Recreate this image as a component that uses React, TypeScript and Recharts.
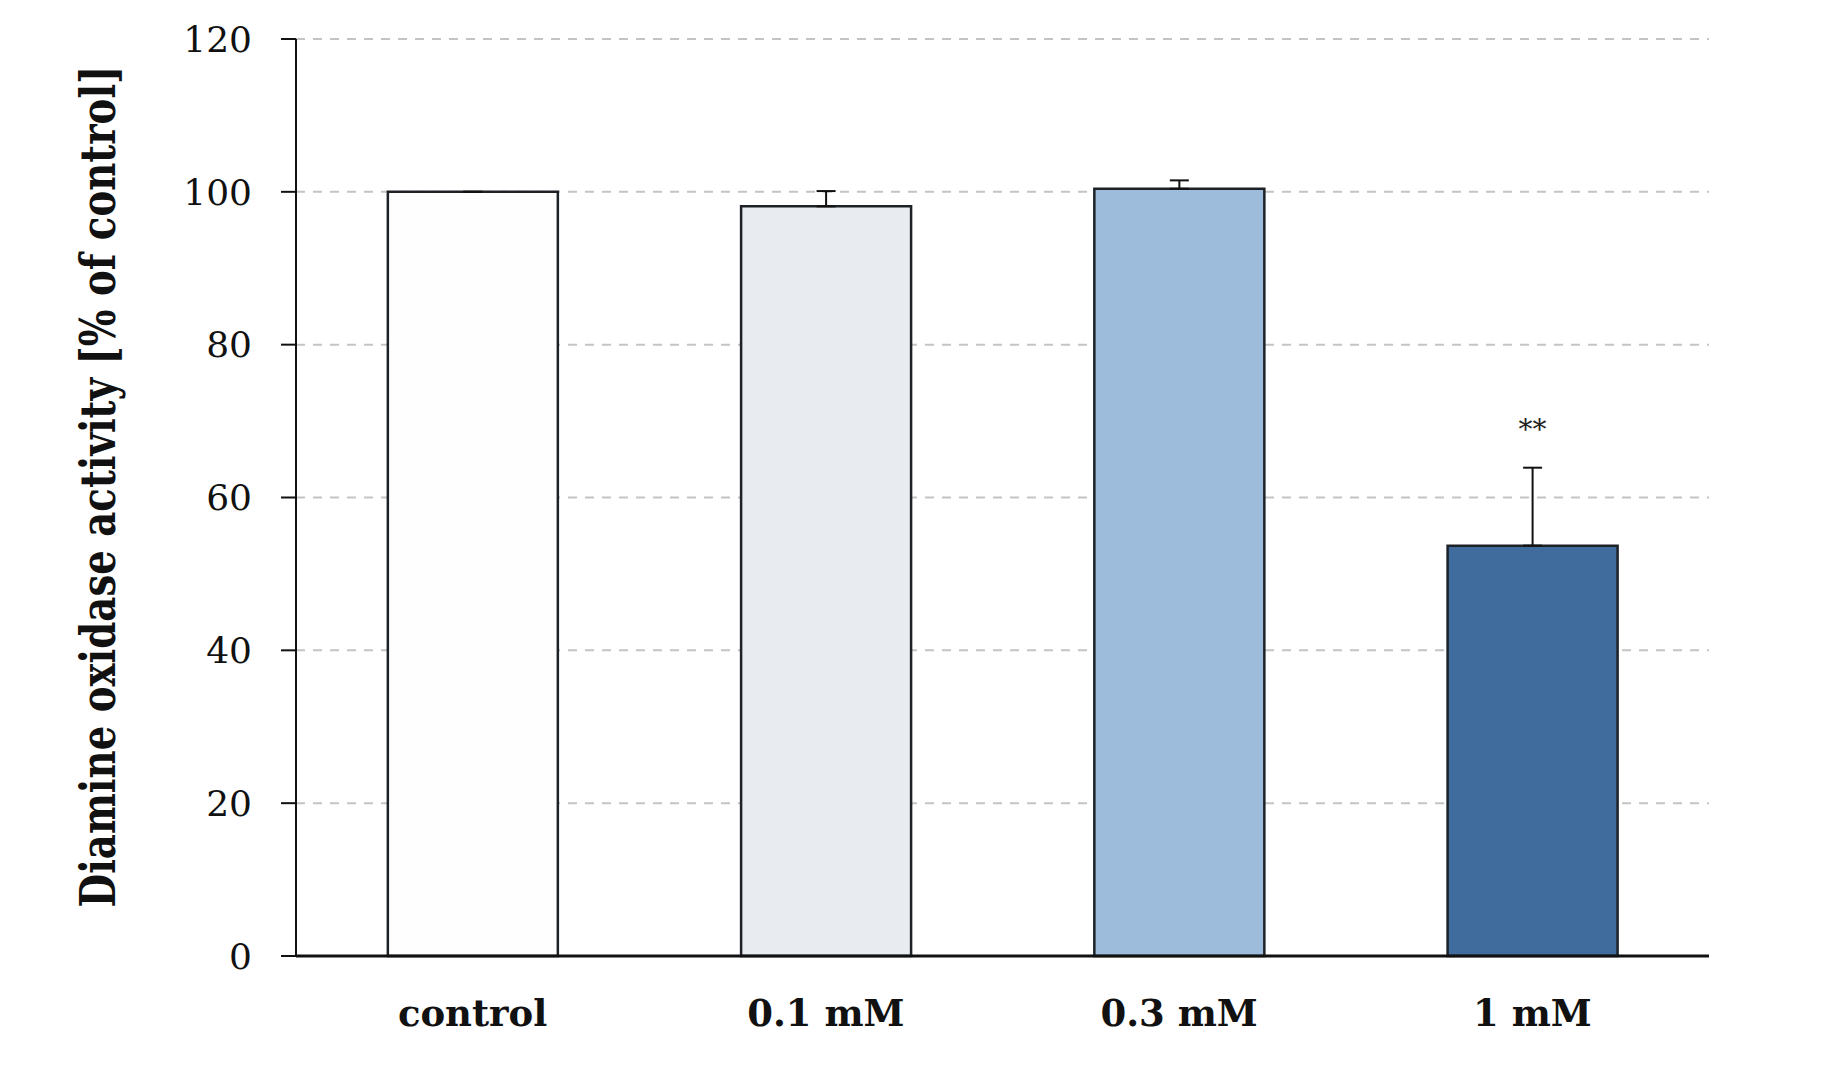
import React, { useLayoutEffect, useRef, useState } from 'react';
import { BarChart, Bar, XAxis, YAxis, CartesianGrid, Cell, ErrorBar, LabelList } from 'recharts';

const categories = ['control', '0.1 mM', '0.3 mM', '1 mM'];
const activity = [100, 98.1, 100.4, 53.7];
const errorUp = [0, 2.0, 1.1, 10.2];
const significance = ['', '', '', '**'];
const barColors = ['#fefefe', '#e8ecf1', '#9dbcdb', '#3f6c9c'];
const yTicks = [0, 20, 40, 60, 80, 100, 120];

const data = categories.map((name, i) => ({
    name,
    activity: activity[i],
    err: [0, errorUp[i]],
    sig: significance[i],
}));

const SERIF = '"DejaVu Serif", serif';
const Y_LABEL = 'Diamine oxidase activity [% of control]';
const Y_LABEL_LEN = 842;

// the label in the reference is squeezed along its length, so scale it to fit
const YLabel = (props: any) => {
    const vb = props.viewBox || { x: 0, y: 0, width: 0, height: 0 };
    const ref = useRef<SVGTextElement>(null);
    const [sx, setSx] = useState(0.72);
    useLayoutEffect(() => {
        if (ref.current) {
            const len = ref.current.getComputedTextLength();
            if (len > 0) setSx(Y_LABEL_LEN / len);
        }
    }, []);
    const cx = 115;
    const cy = vb.y + vb.height / 2 - 11;
    return (
        <text
            ref={ref}
            x={0} y={0}
            transform={`translate(${cx},${cy}) rotate(-90) scale(${sx},1)`}
            textAnchor="middle"
            fontFamily={SERIF}
            fontWeight={700}
            fontSize={48}
            fill="#111"
        >
            {Y_LABEL}
        </text>
    );
};

const SigLabel = (props: any) => {
    const { x, y, width, value } = props;
    if (!value) return null;
    return (
        <text x={x + width / 2} y={y - 107} textAnchor="middle" fontFamily={SERIF} fontSize={28} fill="#222">
            {value}
        </text>
    );
};

export default function App() {
    return (
        <div style={{ position: 'absolute', left: 0, top: 0, width: 1834, height: 1075, background: '#fff' }}>
            <BarChart
                width={1834}
                height={1075}
                data={data}
                margin={{ top: 39, right: 125, bottom: 0, left: 0 }}
                barCategoryGap="26%"
            >
                <CartesianGrid vertical={false} stroke="#c4c4c4" strokeWidth={2} strokeDasharray="9 8" />
                <XAxis
                    dataKey="name"
                    height={119}
                    tickSize={0}
                    tickMargin={44}
                    tickLine={false}
                    axisLine={{ stroke: '#111', strokeWidth: 3 }}
                    tick={{ fontFamily: SERIF, fontWeight: 700, fontSize: 37, fill: '#111' }}
                />
                <YAxis
                    width={296}
                    domain={[0, 120]}
                    ticks={yTicks}
                    interval={0}
                    tickSize={15}
                    tickMargin={29}
                    axisLine={{ stroke: '#111', strokeWidth: 2 }}
                    tickLine={{ stroke: '#111', strokeWidth: 2 }}
                    tick={{ fontFamily: SERIF, fontSize: 36, fill: '#111' }}
                    label={<YLabel />}
                />
                <Bar dataKey="activity" stroke="#1e2226" strokeWidth={2.5} isAnimationActive={false}>
                    {data.map((_, i) => <Cell key={i} fill={barColors[i]} />)}
                    <ErrorBar dataKey="err" direction="y" width={9.5} strokeWidth={2} stroke="#111" />
                    <LabelList dataKey="sig" content={<SigLabel />} />
                </Bar>
            </BarChart>
        </div>
    );
}
